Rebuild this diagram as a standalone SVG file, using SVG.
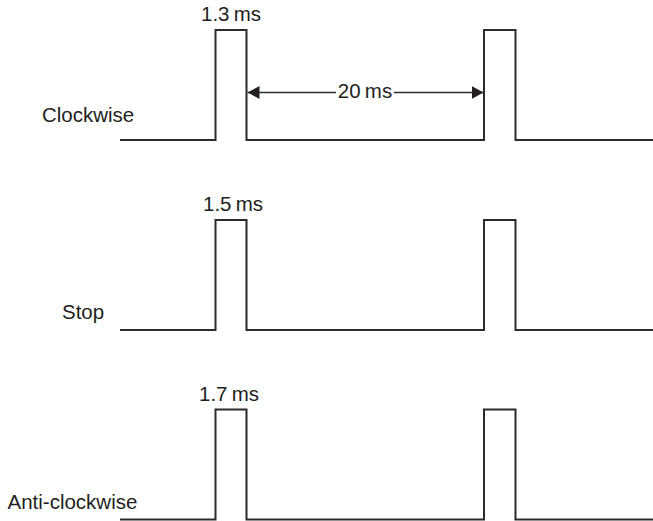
<svg xmlns="http://www.w3.org/2000/svg" width="653" height="521" viewBox="0 0 653 521">
<style>
.wave{fill:none;stroke:#2b2b2b;stroke-width:2;stroke-linejoin:miter}
.dim{fill:none;stroke:#2b2b2b;stroke-width:1.3}
text{font-family:"Liberation Sans",Arial,sans-serif;font-size:20.5px;fill:#231f20}
.c{text-anchor:middle;word-spacing:-1.5px}
</style>
<defs>
<marker id="ah" viewBox="0 0 12 13" refX="12" refY="6.5" markerWidth="12" markerHeight="13" markerUnits="userSpaceOnUse" orient="auto-start-reverse">
<path d="M0,0 L12,6.5 L0,13 Z" fill="#231f20"/>
</marker>
</defs>
<g id="clockwise">
<path class="wave" d="M120,140 H215.5 V30 H246.5 V140 H484 V30 H515.5 V140 H653"/>
<text x="42" y="121.5">Clockwise</text>
<text class="c" x="231" y="20.5">1.3 ms</text>
</g>
<g id="stop">
<path class="wave" d="M120,330 H215.5 V220 H246.5 V330 H484 V220 H515.5 V330 H653"/>
<text x="62" y="319">Stop</text>
<text class="c" x="233" y="210.5">1.5 ms</text>
</g>
<g id="anticlockwise">
<path class="wave" d="M120,519.5 H215.5 V409.5 H246.5 V519.5 H484 V409.5 H515.5 V519.5 H653"/>
<text x="7.5" y="509">Anti-clockwise</text>
<text class="c" x="229" y="400.5">1.7 ms</text>
</g>
<g id="connectors">
<line class="dim" x1="247.5" y1="92.5" x2="336" y2="92.5" marker-start="url(#ah)"/>
<line class="dim" x1="394" y1="92.5" x2="483.5" y2="92.5" marker-end="url(#ah)"/>
<text class="c" x="365" y="97.5">20 ms</text>
</g>
</svg>
